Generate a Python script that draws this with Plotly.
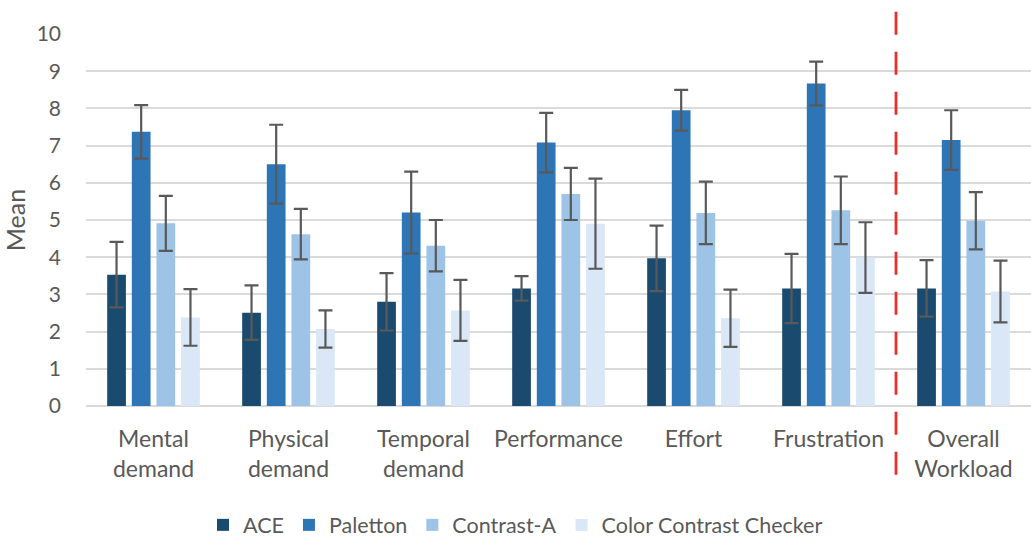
import plotly.graph_objects as go

categories = ["Mental<br>demand", "Physical<br>demand", "Temporal<br>demand",
              "Performance", "Effort", "Frustration", "Overall<br>Workload"]
series_names = ["ACE", "Paletton", "Contrast-A", "Color Contrast Checker"]

ace = [3.53, 2.51, 2.80, 3.16, 3.97, 3.16, 3.16]
ace_err = [0.88, 0.73, 0.77, 0.33, 0.88, 0.93, 0.76]
paletton = [7.37, 6.50, 5.20, 7.08, 7.95, 8.67, 7.15]
paletton_err = [0.72, 1.06, 1.10, 0.80, 0.55, 0.59, 0.80]
contrast_a = [4.91, 4.62, 4.31, 5.70, 5.19, 5.26, 4.98]
contrast_a_err = [0.74, 0.68, 0.69, 0.70, 0.84, 0.91, 0.77]
ccc = [2.38, 2.07, 2.57, 4.90, 2.36, 3.99, 3.08]
ccc_err = [0.76, 0.50, 0.82, 1.21, 0.77, 0.95, 0.83]

colors = ["#1B4A6F", "#2E75B6", "#9DC3E6", "#DAE7F6"]
values = [ace, paletton, contrast_a, ccc]
errors = [ace_err, paletton_err, contrast_a_err, ccc_err]

FONT = "Lato, Carlito, Calibri, sans-serif"
TXT = "#595959"

fig = go.Figure()
for name, v, e, c in zip(series_names, values, errors, colors):
    fig.add_trace(go.Bar(
        x=categories, y=v, name=name, marker=dict(color=c, line=dict(width=0)),
        error_y=dict(type="data", array=e, visible=True, color="#595959",
                     thickness=2.2, width=7),
    ))

fig.update_layout(
    width=1031, height=540,
    margin=dict(l=86, r=0, t=34, b=134),
    paper_bgcolor="white", plot_bgcolor="white",
    barmode="group", bargap=0.27, bargroupgap=0.24,
    font=dict(family=FONT, color=TXT, size=21),
    legend=dict(orientation="h", xref="container", yref="container",
                x=0.5, xanchor="center", y=0.028, yanchor="middle",
                font=dict(size=21.5, color=TXT), itemwidth=30,
                traceorder="normal"),
    xaxis=dict(type="category", range=[-0.5, 6.5], showgrid=False,
               showline=False, zeroline=False, ticks="",
               tickfont=dict(size=23, color=TXT), ticklabelstandoff=17),
    yaxis=dict(range=[0, 10], dtick=1, showgrid=True, gridcolor="#DADADA",
               gridwidth=1.5, zeroline=True, zerolinecolor="#D9D9D9",
               zerolinewidth=1.5, showline=False, ticks="",
               tickfont=dict(size=21, color=TXT), ticklabelstandoff=24,
               title=dict(text="Mean", font=dict(size=25, color=TXT),
                          standoff=5)),
    shapes=[dict(type="line", xref="x", yref="paper", x0=5.5, x1=5.5,
                 y0=-0.185, y1=1.065, layer="above",
                 line=dict(color="#E8302B", width=2.8, dash="23px,17px"))],
)

fig.write_html("out.html",
               config={"displayModeBar": False},
               post_script="document.body.style.margin='0';document.body.style.padding='0';")
